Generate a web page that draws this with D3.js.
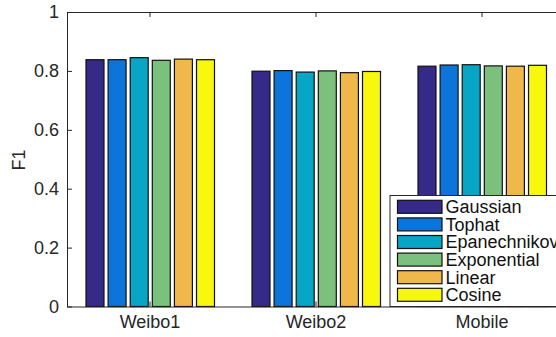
<!DOCTYPE html>
<html>
<head>
<meta charset="utf-8">
<script src="https://cdn.jsdelivr.net/npm/d3@7"></script>
<style>
  html, body { margin: 0; padding: 0; background: #fff; overflow: hidden; }
  svg { display: block; font-family: "Liberation Sans", Arial, Helvetica, sans-serif; }
</style>
</head>
<body>
<svg id="chart" width="556" height="337"></svg>
<script>
// Datasets on the x axis
const categories = ["Weibo1", "Weibo2", "Mobile"];
// Kernel functions (one bar per kernel in each group)
const kernels = ["Gaussian", "Tophat", "Epanechnikov", "Exponential", "Linear", "Cosine"];
// F1 score per kernel, in dataset order
const gaussian     = [0.838, 0.799, 0.816];
const tophat       = [0.838, 0.801, 0.820];
const epanechnikov = [0.845, 0.796, 0.821];
const exponential  = [0.836, 0.800, 0.817];
const linear       = [0.840, 0.794, 0.816];
const cosine       = [0.838, 0.798, 0.819];
const yTicks = [0, 0.2, 0.4, 0.6, 0.8, 1];
const kernelColors = ["#352A87", "#0D74DC", "#06A6C4", "#7CC07E", "#F0B84A", "#F8F80E"];

const seriesValues = [gaussian, tophat, epanechnikov, exponential, linear, cosine];

const svg = d3.select("#chart");
const plotLeft = 67, plotRight = 565, plotTop = 12, plotBottom = 306.5;
const axisColor = "#262626";

const x0 = d3.scaleBand().domain(categories).range([plotLeft, plotRight]).padding(0);
const groupInset = 19, groupSpan = 128.5;
const x1 = d3.scaleBand().domain(kernels)
  .range([groupInset, groupInset + groupSpan])
  .paddingInner(0.186).paddingOuter(0);
const y = d3.scaleLinear().domain([0, 1]).range([plotBottom, plotTop]);
const color = d3.scaleOrdinal().domain(kernels).range(kernelColors);

// Bars
const groups = svg.append("g").selectAll("g")
  .data(categories)
  .join("g")
  .attr("transform", d => `translate(${x0(d)},0)`);

groups.selectAll("rect")
  .data((c, ci) => kernels.map((k, ki) => ({ k, v: seriesValues[ki][ci] })))
  .join("rect")
  .attr("x", d => x1(d.k))
  .attr("y", d => y(d.v))
  .attr("width", x1.bandwidth())
  .attr("height", d => y(0) - y(d.v))
  .attr("fill", d => color(d.k))
  .attr("stroke", "#111")
  .attr("stroke-width", 1.2);

// Axes (box style, ticks pointing inward)
const fmt = d => d === 0 ? "0" : d === 1 ? "1" : d3.format(".1f")(d);
const yAxis = svg.append("g")
  .attr("transform", `translate(${plotLeft},0)`)
  .call(d3.axisLeft(y).tickValues(yTicks).tickFormat(fmt).tickSizeInner(-5).tickSizeOuter(0).tickPadding(8));
const xAxis = svg.append("g")
  .attr("transform", `translate(0,${plotBottom})`)
  .call(d3.axisBottom(x0).tickSizeInner(-5).tickSizeOuter(0).tickPadding(9));
const topAxis = svg.append("g")
  .attr("transform", `translate(0,${plotTop})`)
  .call(d3.axisTop(x0).tickSizeInner(-5).tickSizeOuter(0).tickFormat(""));

[yAxis, xAxis, topAxis].forEach(g => {
  g.selectAll("path, line").attr("stroke", axisColor).attr("stroke-width", 1);
  g.selectAll("text").attr("fill", axisColor).attr("font-size", 18)
    .attr("font-family", "Liberation Sans, Arial, sans-serif");
});
xAxis.selectAll("text").attr("dy", "0.71em");

// Y axis title
svg.append("text")
  .attr("transform", `translate(25,160) rotate(-90)`)
  .attr("text-anchor", "middle")
  .attr("fill", axisColor)
  .attr("font-size", 18)
  .text("F1");

// Legend
const legend = svg.append("g");
legend.append("rect")
  .attr("x", 390).attr("y", 195.5)
  .attr("width", 200).attr("height", plotBottom - 195.5)
  .attr("fill", "#fff").attr("stroke", axisColor).attr("stroke-width", 1);
const rows = legend.selectAll("g.row").data(kernels).join("g")
  .attr("class", "row")
  .attr("transform", (d, i) => `translate(0,${206.8 + i * 17.6})`);
rows.append("rect")
  .attr("x", 397.5).attr("y", -6.5)
  .attr("width", 44.5).attr("height", 13)
  .attr("fill", d => color(d))
  .attr("stroke", "#111").attr("stroke-width", 1.2);
rows.append("text")
  .attr("x", 445.5).attr("y", 0)
  .attr("dy", "0.36em")
  .attr("fill", "#111")
  .attr("font-size", 18)
  .text(d => d);
</script>
</body>
</html>
